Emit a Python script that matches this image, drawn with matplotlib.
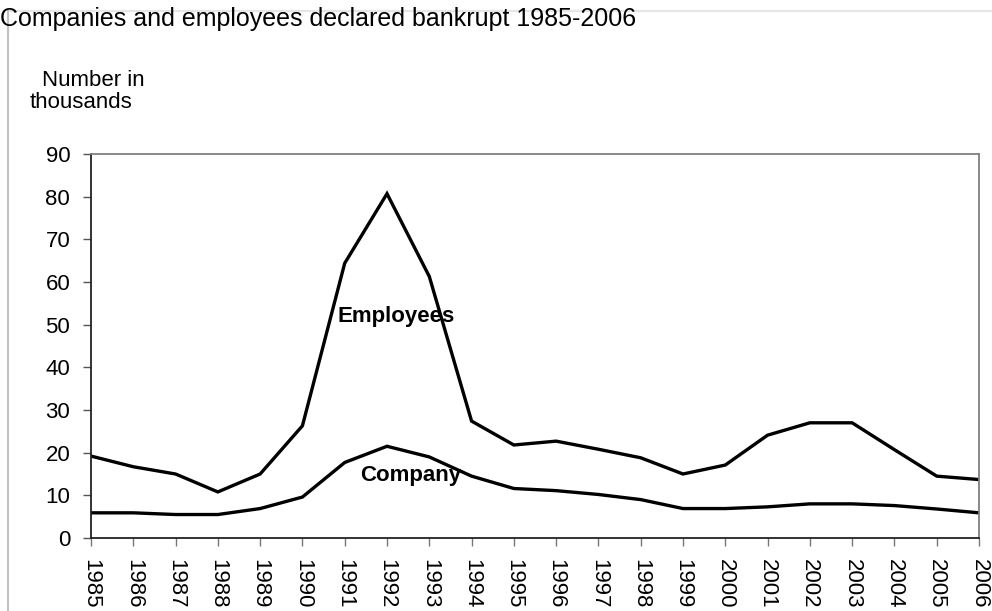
import matplotlib
matplotlib.use('Agg')
import matplotlib.pyplot as plt
from matplotlib.lines import Line2D

plt.rcParams['font.family'] = ['Liberation Sans', 'DejaVu Sans']

years = list(range(1985, 2007))
employees = [19.2, 16.7, 15.0, 10.8, 15.0, 26.3, 64.4, 80.7, 61.3, 27.4,
             21.8, 22.7, 20.8, 18.8, 15.0, 17.1, 24.1, 27.0, 27.0, 20.7,
             14.5, 13.7]
company = [5.9, 5.9, 5.5, 5.5, 6.9, 9.6, 17.7, 21.5, 19.0, 14.5,
           11.6, 11.1, 10.2, 9.0, 6.9, 6.9, 7.3, 8.0, 8.0, 7.6,
           6.8, 5.9]

fig = plt.figure(figsize=(9.92, 6.11), dpi=100)
ax = fig.add_axes([91 / 992, 1 - 538 / 611, 888 / 992, 384 / 611])

ax.plot(years, employees, color='black', lw=2.4, solid_joinstyle='miter')
ax.plot(years, company, color='black', lw=2.4, solid_joinstyle='miter')

ax.set_xlim(1985, 2006)
ax.set_ylim(0, 90)
ax.set_yticks(range(0, 91, 10))
ax.set_xticks(years)
ax.set_xticklabels([str(y) for y in years], rotation=270, fontsize=16,
                   va='top', ha='center')
ax.tick_params(axis='y', labelsize=16, length=6, width=1, color='#555555',
               pad=9)
ax.tick_params(axis='x', length=6, width=1, color='#777777', pad=9)

ax.spines['left'].set_color('#222222')
ax.spines['bottom'].set_color('#222222')
ax.spines['top'].set_color('#808080')
ax.spines['right'].set_color('#808080')
for s in ax.spines.values():
    s.set_linewidth(1.3)

ax.text(1992.22, 52.0, 'Employees', fontsize=16, fontweight='bold',
        ha='center', va='center')
ax.text(1992.55, 14.6, 'Company', fontsize=16, fontweight='bold',
        ha='center', va='center')

# frame lines round the chart
fig.add_artist(Line2D([8 / 992, 1], [1 - 11 / 611, 1 - 11 / 611],
                      color='#e6e6e6', lw=1.5, transform=fig.transFigure))
fig.add_artist(Line2D([8 / 992, 8 / 992], [0, 1 - 11 / 611],
                      color='#c0c0c0', lw=1.5, transform=fig.transFigure))

fig.text(0, 1 - 19 / 611, 'Companies and employees declared bankrupt 1985-2006',
         fontsize=18, ha='left', va='center')
fig.text(93 / 992, 1 - 80 / 611, 'Number in', fontsize=16,
         ha='center', va='center')
fig.text(81 / 992, 1 - 103 / 611, 'thousands', fontsize=16,
         ha='center', va='center')

fig.savefig('out.png', dpi=100)
